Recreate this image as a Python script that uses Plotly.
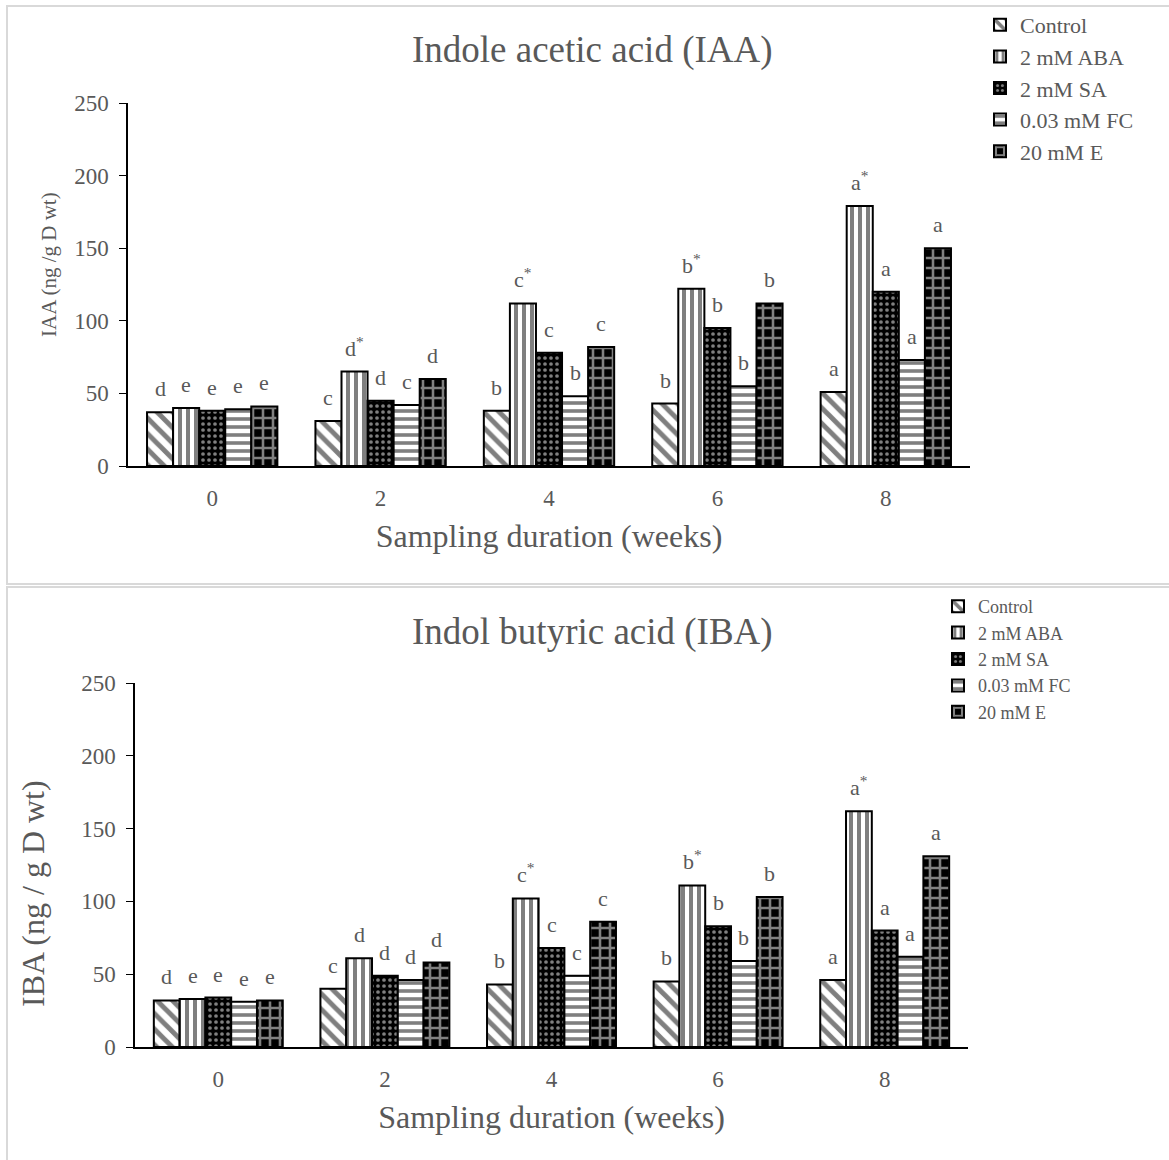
import plotly.graph_objects as go

weeks = ["0", "2", "4", "6", "8"]
treatments = ["Control", "2 mM ABA", "2 mM SA", "0.03 mM FC", "20 mM E"]

iaa_control = [37, 31, 38, 43, 51]
iaa_aba = [40, 65, 112, 122, 179]
iaa_sa = [38, 45, 78, 95, 120]
iaa_fc = [39, 42, 48, 55, 73]
iaa_e = [41, 60, 82, 112, 150]

iaa_let_control = ["d", "c", "b", "b", "a"]
iaa_let_aba = ["e", "d*", "c*", "b*", "a*"]
iaa_let_sa = ["e", "d", "c", "b", "a"]
iaa_let_fc = ["e", "c", "b", "b", "a"]
iaa_let_e = ["e", "d", "c", "b", "a"]

iba_control = [32, 40, 43, 45, 46]
iba_aba = [33, 61, 102, 111, 162]
iba_sa = [34, 49, 68, 83, 80]
iba_fc = [31, 46, 49, 59, 62]
iba_e = [32, 58, 86, 103, 131]

iba_let_control = ["d", "c", "b", "b", "a"]
iba_let_aba = ["e", "d", "c*", "b*", "a*"]
iba_let_sa = ["e", "d", "c", "b", "a"]
iba_let_fc = ["e", "d", "c", "b", "a"]
iba_let_e = ["e", "d", "c", "b", "a"]

iaa_vals = [iaa_control, iaa_aba, iaa_sa, iaa_fc, iaa_e]
iaa_lets = [iaa_let_control, iaa_let_aba, iaa_let_sa, iaa_let_fc, iaa_let_e]
iba_vals = [iba_control, iba_aba, iba_sa, iba_fc, iba_e]
iba_lets = [iba_let_control, iba_let_aba, iba_let_sa, iba_let_fc, iba_let_e]

W, H = 1169, 1160
FONT = "Liberation Serif"
GREY = "#595959"

patterns = [
    dict(shape="\\", fgcolor="black", bgcolor="white", size=11, solidity=0.45),
    dict(shape="|", fgcolor="black", bgcolor="white", size=8, solidity=0.5),
    dict(shape=".", fgcolor="white", bgcolor="black", size=6, solidity=0.3),
    dict(shape="-", fgcolor="black", bgcolor="white", size=8, solidity=0.45),
    dict(shape="+", fgcolor="white", bgcolor="black", size=10, solidity=0.45),
]

top_x = (128, 970)
top_y = (103, 466)
bot_x = (135, 968)
bot_y = (683, 1047)
bargap = 0.226

fig = go.Figure()
for i, name in enumerate(treatments):
    fig.add_trace(go.Bar(
        x=weeks, y=iaa_vals[i], name=name, xaxis="x", yaxis="y",
        legend="legend", legendgroup="t%d" % i,
        marker=dict(color="white", pattern=patterns[i],
                    line=dict(color="black", width=2)),
    ))
for i, name in enumerate(treatments):
    fig.add_trace(go.Bar(
        x=weeks, y=iba_vals[i], name=name, xaxis="x2", yaxis="y2",
        legend="legend2", legendgroup="b%d" % i,
        marker=dict(color="white", pattern=patterns[i],
                    line=dict(color="black", width=2)),
    ))

annotations = []


def add_letters(vals, lets, xr, yr, xpx):
    bw = (xpx[1] - xpx[0]) / len(weeks) * (1 - bargap) / len(treatments)
    for i in range(len(treatments)):
        for j in range(len(weeks)):
            t = lets[i][j]
            if t.endswith("*"):
                t = t[:-1] + "<sup>*</sup>"
            annotations.append(dict(
                x=j, y=vals[i][j], xref=xr, yref=yr, text=t, showarrow=False,
                xanchor="center", yanchor="bottom", yshift=9,
                xshift=(i - 2) * bw,
                font=dict(family=FONT, size=22, color=GREY)))


add_letters(iaa_vals, iaa_lets, "x", "y", top_x)
add_letters(iba_vals, iba_lets, "x2", "y2", bot_x)

annotations.append(dict(text="Indole acetic acid (IAA)", x=592 / W, y=1 - 50 / H,
                        xref="paper", yref="paper", showarrow=False,
                        xanchor="center", yanchor="middle",
                        font=dict(family=FONT, size=37, color=GREY)))
annotations.append(dict(text="Indol butyric acid (IBA)", x=592 / W, y=1 - 632 / H,
                        xref="paper", yref="paper", showarrow=False,
                        xanchor="center", yanchor="middle",
                        font=dict(family=FONT, size=37, color=GREY)))
annotations.append(dict(text="IAA (ng /g D wt)", x=49 / W, y=1 - 265 / H,
                        xref="paper", yref="paper", showarrow=False, textangle=-90,
                        xanchor="center", yanchor="middle",
                        font=dict(family=FONT, size=21, color=GREY)))
annotations.append(dict(text="IBA (ng / g D wt)", x=33 / W, y=1 - 894 / H,
                        xref="paper", yref="paper", showarrow=False, textangle=-90,
                        xanchor="center", yanchor="middle",
                        font=dict(family=FONT, size=32, color=GREY)))

shapes = [
    dict(type="rect", xref="paper", yref="paper", x0=7 / W, x1=1.01,
         y0=1 - 584 / H, y1=1 - 6 / H, line=dict(color="#d9d9d9", width=2)),
    dict(type="rect", xref="paper", yref="paper", x0=7 / W, x1=1.01,
         y0=-0.01, y1=1 - 587 / H, line=dict(color="#d9d9d9", width=2)),
]

xaxis_common = dict(type="category", showline=True, linecolor="black", linewidth=1.5,
                    ticks="", ticklabelstandoff=11, automargin=False,
                    tickfont=dict(family=FONT, size=23, color=GREY),
                    showgrid=False, zeroline=False)
yaxis_common = dict(range=[0, 250], dtick=50, showline=True, linecolor="black",
                    linewidth=1.5, ticks="outside", ticklen=7, tickcolor="black",
                    ticklabelstandoff=6, automargin=False,
                    tickfont=dict(family=FONT, size=23, color=GREY),
                    showgrid=False, zeroline=False)

fig.update_layout(
    width=W, height=H,
    margin=dict(l=0, r=0, t=0, b=0, pad=0, autoexpand=False),
    paper_bgcolor="white", plot_bgcolor="white",
    barmode="group", bargap=bargap, bargroupgap=0,
    font=dict(family=FONT, color=GREY),
    xaxis=dict(domain=[top_x[0] / W, top_x[1] / W], anchor="y",
               title=dict(text="Sampling duration (weeks)", standoff=14,
                          font=dict(family=FONT, size=32, color=GREY)),
               **xaxis_common),
    yaxis=dict(domain=[1 - top_y[1] / H, 1 - top_y[0] / H], anchor="x",
               **yaxis_common),
    xaxis2=dict(domain=[bot_x[0] / W, bot_x[1] / W], anchor="y2",
                title=dict(text="Sampling duration (weeks)", standoff=14,
                           font=dict(family=FONT, size=32, color=GREY)),
                **xaxis_common),
    yaxis2=dict(domain=[1 - bot_y[1] / H, 1 - bot_y[0] / H], anchor="x2",
                **yaxis_common),
    legend=dict(x=980 / W, y=1 - 4 / H, xanchor="left", yanchor="top",
                font=dict(family=FONT, size=22, color=GREY),
                bgcolor="rgba(0,0,0,0)", tracegroupgap=0, itemwidth=30),
    legend2=dict(x=938 / W, y=1 - 588 / H, xanchor="left", yanchor="top",
                 font=dict(family=FONT, size=18, color=GREY),
                 bgcolor="rgba(0,0,0,0)", tracegroupgap=0, itemwidth=30),
    annotations=annotations,
    shapes=shapes,
)

fig.write_html("out.html")
